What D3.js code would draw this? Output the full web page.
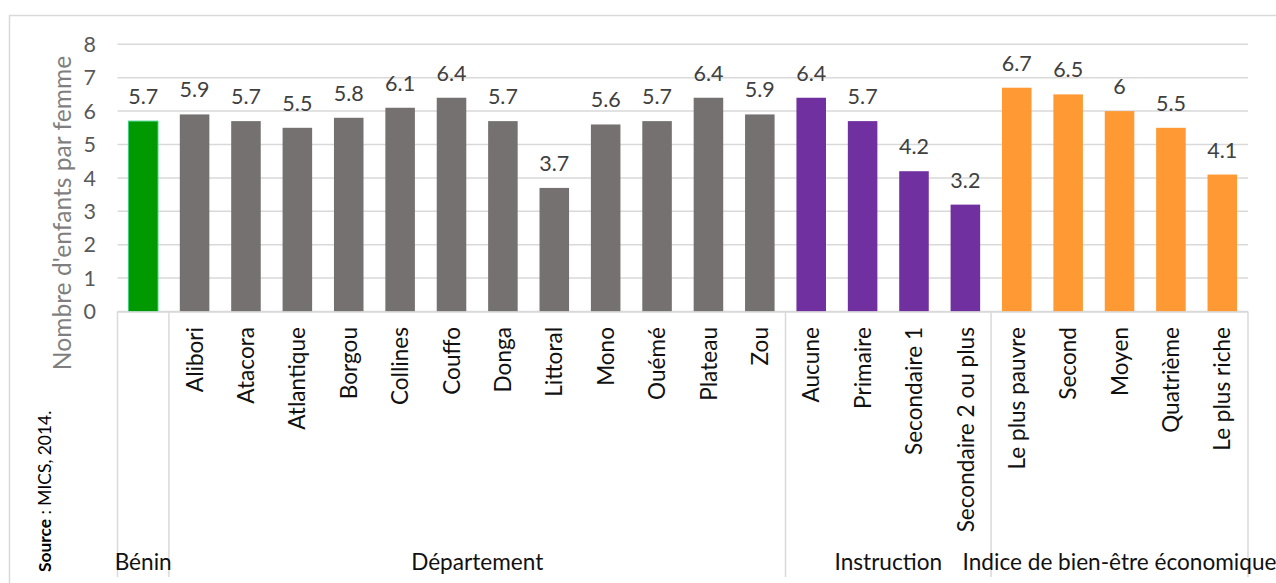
<!DOCTYPE html>
<html>
<head>
<meta charset="utf-8">
<script src="https://cdn.jsdelivr.net/npm/d3@7/dist/d3.min.js"></script>
<style>
  html, body { margin: 0; padding: 0; background: #fff; }
  svg { display: block; }
  text { font-family: Lato, "Open Sans", sans-serif; }
</style>
</head>
<body>
<svg id="chart" width="1276" height="583"></svg>
<script>
// Indice synthétique de fécondité (enfants par femme) — Bénin, MICS 2014
const groups = ["Bénin", "Département", "Instruction", "Indice de bien-être économique"];
const groupColors = ["#009900", "#767171", "#7030a0", "#ff9933"];
const categories = [
  "", "Alibori", "Atacora", "Atlantique", "Borgou", "Collines", "Couffo", "Donga",
  "Littoral", "Mono", "Ouémé", "Plateau", "Zou",
  "Aucune", "Primaire", "Secondaire 1", "Secondaire 2 ou plus",
  "Le plus pauvre", "Second", "Moyen", "Quatrième", "Le plus riche"
];
const categoryGroup = [0, 1,1,1,1,1,1,1,1,1,1,1,1, 2,2,2,2, 3,3,3,3,3];
const values = [5.7, 5.9, 5.7, 5.5, 5.8, 6.1, 6.4, 5.7, 3.7, 5.6, 5.7, 6.4, 5.9,
                6.4, 5.7, 4.2, 3.2, 6.7, 6.5, 6, 5.5, 4.1];
const yTicks = [0, 1, 2, 3, 4, 5, 6, 7, 8];

const svg = d3.select("#chart");
const gridColor = "#d9d9d9";

// outer chart frame
svg.append("path")
  .attr("d", "M9.5,583 V15.5 H1276")
  .attr("fill", "none").attr("stroke", gridColor).attr("stroke-width", 1.5);

const plotLeft = 117.5, plotRight = 1248;

const x = d3.scaleBand()
  .domain(d3.range(categories.length))
  .range([plotLeft, plotRight])
  .paddingInner(0.425)
  .paddingOuter(0.2125);

const y = d3.scaleLinear().domain([0, 8]).range([311.5, 44.3]);

// horizontal gridlines
svg.append("g").selectAll("line").data(yTicks).join("line")
  .attr("x1", plotLeft).attr("x2", plotRight)
  .attr("y1", d => y(d)).attr("y2", d => y(d))
  .attr("stroke", gridColor).attr("stroke-width", 1.5);

// y-axis tick labels
svg.append("g").selectAll("text").data(yTicks).join("text")
  .attr("x", 96).attr("y", d => y(d)).attr("dy", "0.36em")
  .attr("text-anchor", "end")
  .attr("fill", "#595959").attr("font-size", 21.5)
  .text(d => d);

// y-axis title
svg.append("text")
  .attr("transform", "translate(71,213) rotate(-90)")
  .attr("text-anchor", "middle")
  .attr("fill", "#7f7f7f").attr("font-size", 24.6)
  .text("Nombre d'enfants par femme");

// bars
svg.append("g").selectAll("rect").data(values).join("rect")
  .attr("x", (d, i) => x(i))
  .attr("width", x.bandwidth())
  .attr("y", d => y(d))
  .attr("height", d => y(0) - y(d))
  .attr("fill", (d, i) => groupColors[categoryGroup[i]])
  .attr("stroke", (d, i) => categoryGroup[i] === 0 ? "#3fcf7f" : "none")
  .attr("stroke-width", 1);

// value labels
svg.append("g").selectAll("text").data(values).join("text")
  .attr("x", (d, i) => x(i) + x.bandwidth() / 2)
  .attr("y", d => y(d) - 17)
  .attr("text-anchor", "middle")
  .attr("fill", "#404040").attr("font-size", 21.5)
  .text(d => d);

// category axis line
svg.append("line")
  .attr("x1", plotLeft).attr("x2", plotRight)
  .attr("y1", y(0) + 0.5).attr("y2", y(0) + 0.5)
  .attr("stroke", gridColor).attr("stroke-width", 1.5);

// group extents along the category axis
const step = x.step();
const groupBounds = groups.map((g, gi) => {
  const idx = categoryGroup.map((c, i) => c === gi ? i : -1).filter(i => i >= 0);
  return {
    name: g,
    start: plotLeft + idx[0] * step,
    end: plotLeft + (idx[idx.length - 1] + 1) * step
  };
});

// group separators
const sepX = [plotLeft].concat(groupBounds.map(b => b.end));
svg.append("g").selectAll("line").data(sepX).join("line")
  .attr("x1", d => d).attr("x2", d => d)
  .attr("y1", y(0)).attr("y2", 577)
  .attr("stroke", gridColor).attr("stroke-width", 1.5);

// category labels (rotated)
svg.append("g").selectAll("text").data(categories).join("text")
  .attr("transform", (d, i) => `translate(${x(i) + x.bandwidth() / 2},327) rotate(-90)`)
  .attr("dy", "0.36em")
  .attr("text-anchor", "end")
  .attr("fill", "#111").attr("font-size", 22.6)
  .text(d => d);

// group labels
svg.append("g").selectAll("text").data(groupBounds).join("text")
  .attr("x", d => (d.start + d.end) / 2)
  .attr("y", 570)
  .attr("text-anchor", "middle")
  .attr("fill", "#111").attr("font-size", 22.6)
  .text(d => d.name);

// source note
const src = svg.append("text")
  .attr("transform", "translate(51,572) rotate(-90)")
  .attr("font-family", "'Liberation Serif', 'DejaVu Serif', serif")
  .attr("font-size", 17.4)
  .attr("fill", "#000");
src.append("tspan").attr("font-weight", "bold").text("Source");
src.append("tspan").text(" : MICS, 2014.");
</script>
</body>
</html>
